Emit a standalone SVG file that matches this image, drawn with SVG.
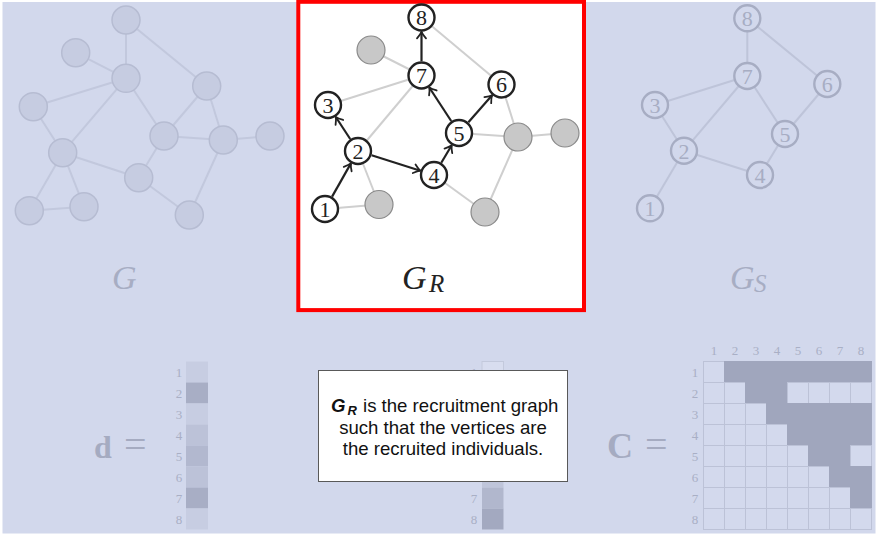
<svg xmlns="http://www.w3.org/2000/svg" width="876" height="537" viewBox="0 0 876 537">
<defs>
<style>
.bg{fill:#d2d8ec}
.ge{stroke:#c2c8dd;stroke-width:2;fill:none}
.gn{fill:#c6cce1;stroke:#b6bcd2;stroke-width:1.5}
.re{stroke:#cfcfcf;stroke-width:2;fill:none}
.ra{stroke:#222;stroke-width:2.2;fill:none;marker-end:url(#arr)}
.rn{fill:#fff;stroke:#222;stroke-width:2.4}
.rg{fill:#c8c8c8;stroke:#8a8a8a;stroke-width:1.2}
.rt{font-family:"Liberation Serif",serif;font-size:22px;fill:#222;text-anchor:middle}
.se{stroke:#bec4d9;stroke-width:2;fill:none}
.sn{fill:#d2d8ec;stroke:#a7adc3;stroke-width:2.4}
.st{font-family:"Liberation Serif",serif;font-size:22px;fill:#a7adc3;text-anchor:middle}
.lab{font-family:"Liberation Serif",serif;font-style:italic;font-size:34px}
.sub{font-family:"Liberation Serif",serif;font-style:italic;font-size:25px}
.num{font-family:"Liberation Serif",serif;font-size:13px;fill:#a9afc5;text-anchor:middle}
.eq{font-family:"Liberation Serif",serif;fill:#a5abc1}
.cl{fill:#d3d9ed;stroke:#bcc2d7;stroke-width:1}
.cd{fill:#a0a6bd;stroke:#a0a6bd;stroke-width:1}
.box{font-family:"Liberation Sans",Arial,sans-serif;font-size:18.6px;fill:#111;text-anchor:middle}
.bi{font-family:"Liberation Sans",Arial,sans-serif;font-weight:bold;font-style:italic;fill:#111}
</style>
<marker id="arr" markerWidth="10" markerHeight="12" viewBox="-8 -6 10 12" refX="0" refY="0" orient="auto" markerUnits="userSpaceOnUse">
<path d="M-6.5,-4.5 Q-2.5,-1 0,0 Q-2.5,1 -6.5,4.5" fill="none" stroke="#222" stroke-width="1.8" stroke-linecap="round"/>
</marker>
</defs>
<rect x="0" y="0" width="876" height="537" fill="#ffffff"/>
<rect class="bg" x="2.5" y="2" width="873" height="531.5"/>

<!-- Graph G (faded) -->
<g id="G-edges">
<line class="ge" x1="126" y1="20" x2="126" y2="78.3"/>
<line class="ge" x1="126" y1="20" x2="206.7" y2="86"/>
<line class="ge" x1="75.7" y1="52.7" x2="126" y2="78.3"/>
<line class="ge" x1="126" y1="78.3" x2="33.3" y2="106.7"/>
<line class="ge" x1="126" y1="78.3" x2="62.7" y2="152.7"/>
<line class="ge" x1="126" y1="78.3" x2="164" y2="136"/>
<line class="ge" x1="206.7" y1="86" x2="164" y2="136"/>
<line class="ge" x1="206.7" y1="86" x2="223.3" y2="140"/>
<line class="ge" x1="164" y1="136" x2="223.3" y2="140"/>
<line class="ge" x1="223.3" y1="140" x2="270" y2="136"/>
<line class="ge" x1="164" y1="136" x2="138.7" y2="177.7"/>
<line class="ge" x1="62.7" y1="152.7" x2="138.7" y2="177.7"/>
<line class="ge" x1="33.3" y1="106.7" x2="62.7" y2="152.7"/>
<line class="ge" x1="62.7" y1="152.7" x2="29.3" y2="210.7"/>
<line class="ge" x1="62.7" y1="152.7" x2="84" y2="206.7"/>
<line class="ge" x1="29.3" y1="210.7" x2="84" y2="206.7"/>
<line class="ge" x1="138.7" y1="177.7" x2="189.3" y2="215"/>
<line class="ge" x1="223.3" y1="140" x2="189.3" y2="215"/>
</g>
<g id="G-n8"><circle class="gn" cx="126" cy="20" r="14"/></g>
<g id="G-na"><circle class="gn" cx="75.7" cy="52.7" r="14"/></g>
<g id="G-n7"><circle class="gn" cx="126" cy="78.3" r="14"/></g>
<g id="G-n6"><circle class="gn" cx="206.7" cy="86" r="14"/></g>
<g id="G-n3"><circle class="gn" cx="33.3" cy="106.7" r="14"/></g>
<g id="G-n5"><circle class="gn" cx="164" cy="136" r="14"/></g>
<g id="G-nb"><circle class="gn" cx="223.3" cy="140" r="14"/></g>
<g id="G-nc"><circle class="gn" cx="270" cy="136" r="14"/></g>
<g id="G-n2"><circle class="gn" cx="62.7" cy="152.7" r="14"/></g>
<g id="G-n4"><circle class="gn" cx="138.7" cy="177.7" r="14"/></g>
<g id="G-n1"><circle class="gn" cx="29.3" cy="210.7" r="14"/></g>
<g id="G-nd"><circle class="gn" cx="84" cy="206.7" r="14"/></g>
<g id="G-ne"><circle class="gn" cx="189.3" cy="215" r="14"/></g>
<text class="lab" x="112" y="289" fill="#a7adc3">G</text>

<!-- G_R panel -->
<rect x="298.3" y="1.8" width="285.7" height="308.3" fill="#ffffff" stroke="#ff0000" stroke-width="4"/>
<g id="GR-connectors">
<line class="re" x1="421.5" y1="17.5" x2="501.5" y2="84.5"/>
<line class="re" x1="371" y1="50" x2="421.5" y2="75.5"/>
<line class="re" x1="421.5" y1="75.5" x2="328" y2="105"/>
<line class="re" x1="421.5" y1="75.5" x2="358" y2="151"/>
<line class="re" x1="501.5" y1="84.5" x2="518" y2="137"/>
<line class="re" x1="459" y1="133" x2="518" y2="137"/>
<line class="re" x1="518" y1="137" x2="565" y2="133"/>
<line class="re" x1="518" y1="137" x2="485" y2="212"/>
<line class="re" x1="434" y1="175" x2="485" y2="212"/>
<line class="re" x1="358" y1="151" x2="379" y2="204.5"/>
<line class="re" x1="325" y1="209" x2="379" y2="204.5"/>
<line class="ra" x1="332.1" y1="196.6" x2="350.9" y2="163.4"/>
<line class="ra" x1="350.2" y1="139" x2="335.8" y2="117"/>
<line class="ra" x1="371.6" y1="155.3" x2="420.4" y2="170.7"/>
<line class="ra" x1="441.3" y1="162.7" x2="451.7" y2="145.3"/>
<line class="ra" x1="451.2" y1="121" x2="429.3" y2="87.5"/>
<line class="ra" x1="468.4" y1="122.2" x2="492.1" y2="95.3"/>
<line class="ra" x1="421.5" y1="61.2" x2="421.5" y2="31.8"/>
</g>
<g id="GR-ga"><circle class="rg" cx="371" cy="50" r="14"/></g>
<g id="GR-gb"><circle class="rg" cx="518" cy="137" r="14"/></g>
<g id="GR-gc"><circle class="rg" cx="565" cy="133" r="14"/></g>
<g id="GR-gd"><circle class="rg" cx="379" cy="204.5" r="14"/></g>
<g id="GR-ge"><circle class="rg" cx="485" cy="212" r="14"/></g>
<g id="GR-n8"><circle class="rn" cx="421.5" cy="17.5" r="13"/><text class="rt" x="421.5" y="25.3">8</text></g>
<g id="GR-n7"><circle class="rn" cx="421.5" cy="75.5" r="13"/><text class="rt" x="421.5" y="83.3">7</text></g>
<g id="GR-n6"><circle class="rn" cx="501.5" cy="84.5" r="13"/><text class="rt" x="501.5" y="92.3">6</text></g>
<g id="GR-n3"><circle class="rn" cx="328" cy="105" r="13"/><text class="rt" x="328" y="112.8">3</text></g>
<g id="GR-n5"><circle class="rn" cx="459" cy="133" r="13"/><text class="rt" x="459" y="140.8">5</text></g>
<g id="GR-n2"><circle class="rn" cx="358" cy="151" r="13"/><text class="rt" x="358" y="158.8">2</text></g>
<g id="GR-n4"><circle class="rn" cx="434" cy="175" r="13"/><text class="rt" x="434" y="182.8">4</text></g>
<g id="GR-n1"><circle class="rn" cx="325" cy="209" r="13"/><text class="rt" x="325" y="216.8">1</text></g>
<text class="lab" x="402" y="289" fill="#222">G</text>
<text class="sub" x="429" y="292" fill="#222">R</text>

<!-- G_S (faded) -->
<g id="GS-connectors">
<line class="se" x1="747.3" y1="18.3" x2="747.3" y2="76"/>
<line class="se" x1="747.3" y1="18.3" x2="827.3" y2="84"/>
<line class="se" x1="747.3" y1="76" x2="655" y2="105"/>
<line class="se" x1="747.3" y1="76" x2="684" y2="150.7"/>
<line class="se" x1="747.3" y1="76" x2="785" y2="134"/>
<line class="se" x1="827.3" y1="84" x2="785" y2="134"/>
<line class="se" x1="655" y1="105" x2="684" y2="150.7"/>
<line class="se" x1="684" y1="150.7" x2="760" y2="175"/>
<line class="se" x1="684" y1="150.7" x2="650" y2="208.3"/>
<line class="se" x1="760" y1="175" x2="785" y2="134"/>
</g>
<g id="GS-n8"><circle class="sn" cx="747.3" cy="18.3" r="13"/><text class="st" x="747.3" y="26.1">8</text></g>
<g id="GS-n7"><circle class="sn" cx="747.3" cy="76" r="13"/><text class="st" x="747.3" y="83.8">7</text></g>
<g id="GS-n6"><circle class="sn" cx="827.3" cy="84" r="13"/><text class="st" x="827.3" y="91.8">6</text></g>
<g id="GS-n3"><circle class="sn" cx="655" cy="105" r="13"/><text class="st" x="655" y="112.8">3</text></g>
<g id="GS-n5"><circle class="sn" cx="785" cy="134" r="13"/><text class="st" x="785" y="141.8">5</text></g>
<g id="GS-n2"><circle class="sn" cx="684" cy="150.7" r="13"/><text class="st" x="684" y="158.5">2</text></g>
<g id="GS-n4"><circle class="sn" cx="760" cy="175" r="13"/><text class="st" x="760" y="182.8">4</text></g>
<g id="GS-n1"><circle class="sn" cx="650" cy="208.3" r="13"/><text class="st" x="650" y="216.1">1</text></g>
<text class="lab" x="730" y="289" fill="#a7adc3">G</text>
<text class="sub" x="754" y="292" fill="#a7adc3">S</text>

<!-- d vector -->
<g id="d-vector">
<text class="eq" x="94" y="458" font-size="32" font-weight="bold">d</text>
<text class="eq" x="124" y="458" font-size="40">=</text>
<rect x="186" y="361.5" width="22" height="21" fill="#c7cde2"/>
<rect x="186" y="382.5" width="22" height="21" fill="#a8aec5"/>
<rect x="186" y="403.5" width="22" height="21" fill="#c7cde2"/>
<rect x="186" y="424.5" width="22" height="21" fill="#bcc2d8"/>
<rect x="186" y="445.5" width="22" height="21" fill="#b2b8cf"/>
<rect x="186" y="466.5" width="22" height="21" fill="#bcc2d8"/>
<rect x="186" y="487.5" width="22" height="21" fill="#a8aec5"/>
<rect x="186" y="508.5" width="22" height="21" fill="#c7cde2"/>
<text class="num" x="179" y="376.5">1</text>
<text class="num" x="179" y="397.5">2</text>
<text class="num" x="179" y="418.5">3</text>
<text class="num" x="179" y="439.5">4</text>
<text class="num" x="179" y="460.5">5</text>
<text class="num" x="179" y="481.5">6</text>
<text class="num" x="179" y="502.5">7</text>
<text class="num" x="179" y="523.5">8</text>
</g>

<!-- middle vector (mostly hidden) -->
<g id="mid-vector">
<rect x="482" y="361.5" width="21.5" height="21" fill="#d8ddef" stroke="#c3c9dc" stroke-width="1"/>
<rect x="482" y="466.5" width="21.5" height="21" fill="#bfc5da"/>
<rect x="482" y="487.5" width="21.5" height="21" fill="#b1b7cd"/>
<rect x="482" y="508.5" width="21.5" height="21" fill="#a3a9c0"/>
<text class="num" x="474" y="376.5">1</text>
<text class="num" x="474" y="502.5">7</text>
<text class="num" x="474" y="523.5">8</text>
</g>

<!-- C matrix -->
<g id="C-matrix">
<text class="eq" x="607" y="458" font-size="36" font-weight="bold">C</text>
<text class="eq" x="645" y="458" font-size="40">=</text>
<g id="C-cells">
<rect class="cl" x="703.5" y="361.5" width="21" height="21"/>
<rect class="cd" x="724.5" y="361.5" width="147" height="21"/>
<rect class="cl" x="703.5" y="382.5" width="21" height="21"/><rect class="cl" x="724.5" y="382.5" width="21" height="21"/>
<rect class="cd" x="745.5" y="382.5" width="42" height="21"/>
<rect class="cl" x="787.5" y="382.5" width="21" height="21"/><rect class="cl" x="808.5" y="382.5" width="21" height="21"/><rect class="cl" x="829.5" y="382.5" width="21" height="21"/><rect class="cl" x="850.5" y="382.5" width="21" height="21"/>
<rect class="cl" x="703.5" y="403.5" width="21" height="21"/><rect class="cl" x="724.5" y="403.5" width="21" height="21"/><rect class="cl" x="745.5" y="403.5" width="21" height="21"/>
<rect class="cd" x="766.5" y="403.5" width="105" height="21"/>
<rect class="cl" x="703.5" y="424.5" width="21" height="21"/><rect class="cl" x="724.5" y="424.5" width="21" height="21"/><rect class="cl" x="745.5" y="424.5" width="21" height="21"/><rect class="cl" x="766.5" y="424.5" width="21" height="21"/>
<rect class="cd" x="787.5" y="424.5" width="84" height="21"/>
<rect class="cl" x="703.5" y="445.5" width="21" height="21"/><rect class="cl" x="724.5" y="445.5" width="21" height="21"/><rect class="cl" x="745.5" y="445.5" width="21" height="21"/><rect class="cl" x="766.5" y="445.5" width="21" height="21"/><rect class="cl" x="787.5" y="445.5" width="21" height="21"/>
<rect class="cd" x="808.5" y="445.5" width="42" height="21"/>
<rect class="cl" x="850.5" y="445.5" width="21" height="21"/>
<rect class="cl" x="703.5" y="466.5" width="21" height="21"/><rect class="cl" x="724.5" y="466.5" width="21" height="21"/><rect class="cl" x="745.5" y="466.5" width="21" height="21"/><rect class="cl" x="766.5" y="466.5" width="21" height="21"/><rect class="cl" x="787.5" y="466.5" width="21" height="21"/><rect class="cl" x="808.5" y="466.5" width="21" height="21"/>
<rect class="cd" x="829.5" y="466.5" width="42" height="21"/>
<rect class="cl" x="703.5" y="487.5" width="21" height="21"/><rect class="cl" x="724.5" y="487.5" width="21" height="21"/><rect class="cl" x="745.5" y="487.5" width="21" height="21"/><rect class="cl" x="766.5" y="487.5" width="21" height="21"/><rect class="cl" x="787.5" y="487.5" width="21" height="21"/><rect class="cl" x="808.5" y="487.5" width="21" height="21"/><rect class="cl" x="829.5" y="487.5" width="21" height="21"/>
<rect class="cd" x="850.5" y="487.5" width="21" height="21"/>
<rect class="cl" x="703.5" y="508.5" width="21" height="21"/><rect class="cl" x="724.5" y="508.5" width="21" height="21"/><rect class="cl" x="745.5" y="508.5" width="21" height="21"/><rect class="cl" x="766.5" y="508.5" width="21" height="21"/><rect class="cl" x="787.5" y="508.5" width="21" height="21"/><rect class="cl" x="808.5" y="508.5" width="21" height="21"/><rect class="cl" x="829.5" y="508.5" width="21" height="21"/><rect class="cl" x="850.5" y="508.5" width="21" height="21"/>
</g>
<text class="num" x="714" y="355">1</text>
<text class="num" x="735" y="355">2</text>
<text class="num" x="756" y="355">3</text>
<text class="num" x="777" y="355">4</text>
<text class="num" x="798" y="355">5</text>
<text class="num" x="819" y="355">6</text>
<text class="num" x="840" y="355">7</text>
<text class="num" x="861" y="355">8</text>
<text class="num" x="695" y="376.5">1</text>
<text class="num" x="695" y="397.5">2</text>
<text class="num" x="695" y="418.5">3</text>
<text class="num" x="695" y="439.5">4</text>
<text class="num" x="695" y="460.5">5</text>
<text class="num" x="695" y="481.5">6</text>
<text class="num" x="695" y="502.5">7</text>
<text class="num" x="695" y="523.5">8</text>
</g>

<!-- caption box -->
<g id="caption">
<rect x="318.5" y="370.5" width="249" height="111" fill="#ffffff" stroke="#595959" stroke-width="1"/>
<text class="bi" x="331" y="411.5" font-size="18.6">G</text>
<text class="bi" x="347.5" y="414.5" font-size="13">R</text>
<text class="box" x="363" y="411.5" style="text-anchor:start">is the recruitment graph</text>
<text class="box" x="443" y="433.5">such that the vertices are</text>
<text class="box" x="443" y="455">the recruited individuals.</text>
</g>
</svg>
